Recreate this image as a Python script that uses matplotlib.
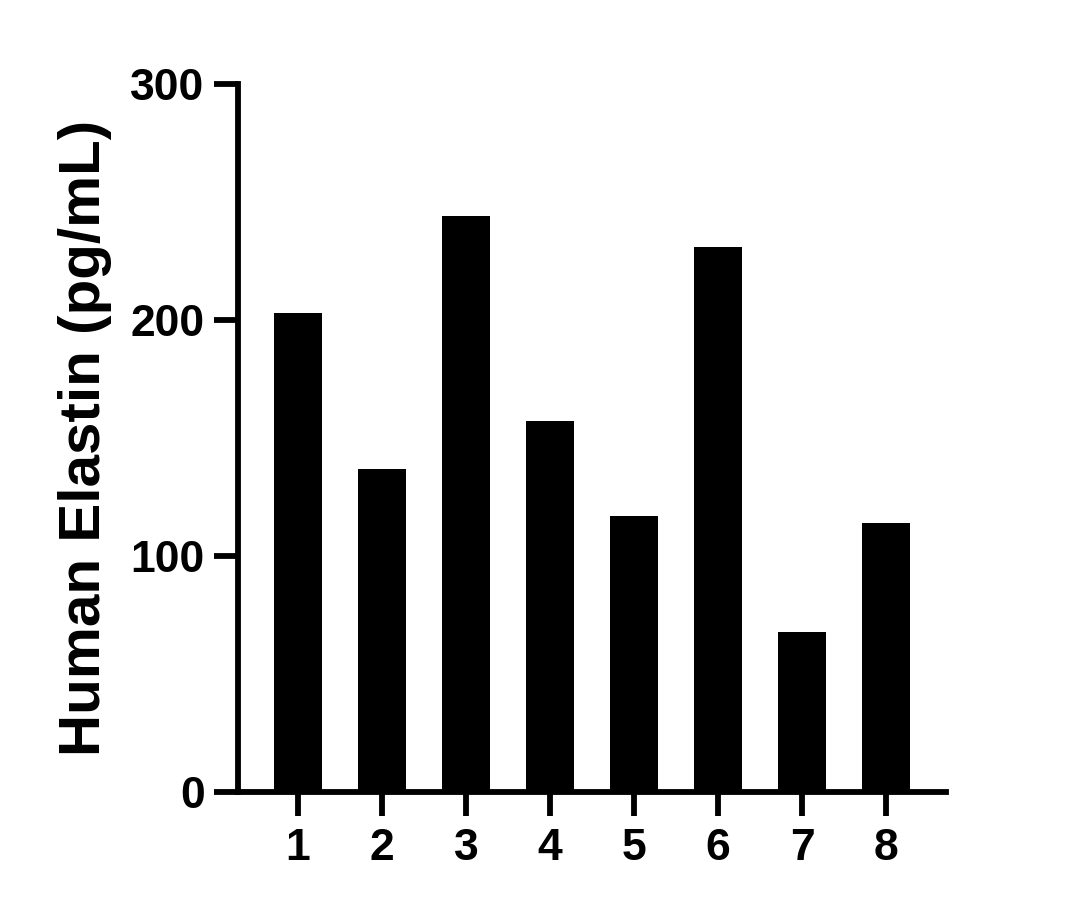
import matplotlib
matplotlib.use("Agg")
import matplotlib.pyplot as plt

categories = ["1", "2", "3", "4", "5", "6", "7", "8"]
values = [203, 137, 244, 157, 117, 231, 68, 114]
y_ticks = [0, 100, 200, 300]
y_label = "Human Elastin (pg/mL)"

plt.rcParams['font.family'] = ['Liberation Sans', 'DejaVu Sans']

fig = plt.figure(figsize=(10.8, 9.09), dpi=100)
ax = fig.add_axes([238/1080, 117/909, (946-238)/1080, (792-84)/909])

x = list(range(1, len(categories) + 1))
ax.bar(x, values, width=0.56, color='black', edgecolor='none', zorder=1)

ax.set_xlim(0.286, 8.714)
ax.set_ylim(0, 300)
ax.set_xticks(x)
ax.set_xticklabels(categories)
ax.set_yticks(y_ticks)
ax.set_yticklabels([str(v) for v in y_ticks])

for s in ['top', 'right']:
    ax.spines[s].set_visible(False)
for s in ['left', 'bottom']:
    ax.spines[s].set_linewidth(4.2)
    ax.spines[s].set_zorder(3)

ax.tick_params(axis='both', direction='out', length=17, width=4.2, labelsize=32, pad=7)
ax.tick_params(axis='x', pad=9)
for lab in ax.get_xticklabels() + ax.get_yticklabels():
    lab.set_fontweight('bold')

ax.set_ylabel(y_label, fontsize=42, fontweight='bold', labelpad=13)

fig.savefig("out.png", dpi=100, facecolor='white')
